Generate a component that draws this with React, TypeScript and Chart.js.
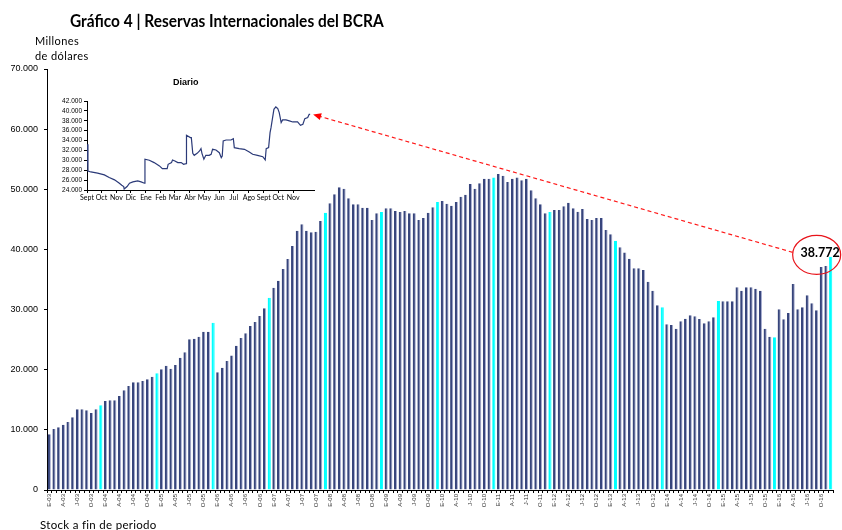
import React, { useEffect, useRef } from 'react';
import { Chart, registerables } from 'chart.js';

Chart.register(...registerables);

// ---- Main chart data (millones de dólares, stock a fin de período) ----
const years = ['03', '04', '05', '06', '07', '08', '09', '10', '11', '12', '13', '14', '15', '16'];
const monthLetters = ['E', 'F', 'M', 'A', 'M', 'J', 'J', 'A', 'S', 'O', 'N', 'D'];

const r2003 = [9260, 10140, 10420, 10860, 11310, 12090, 13410, 13410, 13250, 12800, 13410, 14080];
const r2004 = [14800, 14910, 14910, 15630, 16570, 17290, 17910, 17910, 18120, 18400, 18840, 19400];
const r2005 = [20070, 20670, 20170, 20780, 22000, 22890, 25060, 25160, 25490, 26320, 26320, 27820];
const r2006 = [19570, 20340, 21450, 22370, 23990, 25280, 26050, 27270, 27940, 28930, 30210, 31980];
const r2007 = [33640, 34800, 36750, 38410, 40570, 43120, 44180, 43120, 42850, 42950, 44730, 46110];
const r2008 = [47670, 49170, 50330, 50100, 48500, 47500, 47500, 46940, 46940, 44900, 46010, 46230];
const r2009 = [46840, 46840, 46390, 46230, 46390, 46010, 46010, 44900, 45230, 46110, 47000, 47890];
const r2010 = [48050, 47610, 47280, 47890, 48770, 49110, 50880, 50100, 51000, 51770, 51770, 51940];
const r2011 = [52540, 52270, 51210, 51770, 51940, 51500, 51770, 49850, 48500, 47500, 46010, 46230];
const r2012 = [46560, 46560, 47170, 47780, 46840, 46260, 46720, 45060, 44900, 45230, 45230, 43230];
const r2013 = [42540, 41430, 40380, 39510, 38440, 36860, 36860, 36580, 34640, 33140, 30710, 30380];
const r2014 = [27550, 27440, 26820, 28050, 28490, 29050, 28880, 28430, 27710, 28050, 28720, 31430];
const r2015 = [31380, 31380, 31380, 33700, 33140, 33700, 33700, 33480, 33140, 26820, 25490, 25380];
const r2016 = [30040, 28380, 29430, 34250, 30040, 30380, 32370, 31040, 29880, 37080, 37250, 38772];

const reserves = [
  ...r2003, ...r2004, ...r2005, ...r2006, ...r2007, ...r2008, ...r2009,
  ...r2010, ...r2011, ...r2012, ...r2013, ...r2014, ...r2015, ...r2016,
];
const categories = years.flatMap((y) => monthLetters.map((m) => `${m}-${y}`));
const highlighted = ['D-03', 'D-04', 'D-05', 'D-06', 'D-07', 'D-08', 'D-09', 'D-10', 'D-11', 'F-13', 'D-13', 'D-14', 'D-15', 'D-16'];
const labelledMonths = ['E', 'A', 'J', 'O'];
const yTicks = [0, 10000, 20000, 30000, 40000, 50000, 60000, 70000];

// ---- Inset "Diario" data (days since 1-Sept-2015, millones de dólares) ----
const insetDays = [0, 2, 8, 22, 36, 46, 57, 67, 72, 76, 77, 83, 88, 95, 105, 112, 119, 120, 129, 139, 150, 156, 166, 168, 175, 177, 182, 188, 195, 200, 205, 206, 214, 216, 219, 222, 228, 233, 236, 238, 242, 246, 253, 257, 260, 267, 274, 278, 280, 282, 288, 298, 303, 305, 315, 326, 336, 343, 353, 364, 369, 371, 376, 379, 381, 387, 391, 395, 398, 402, 405, 412, 419, 426, 436, 442, 447, 451, 457, 460, 462];
const insetValues = [33250, 27850, 27650, 27400, 27060, 26520, 26050, 25370, 24970, 24700, 24200, 24700, 25370, 25640, 25840, 25640, 25370, 30220, 30010, 29540, 28870, 28330, 28330, 29200, 29540, 30080, 29880, 29540, 29540, 29200, 29330, 35060, 34590, 34590, 31420, 31010, 31420, 31890, 32360, 31420, 30220, 31010, 31010, 31220, 32230, 32090, 31550, 30540, 30880, 33910, 34110, 34110, 34380, 32560, 32360, 32230, 31690, 31220, 31010, 30740, 30080, 32360, 32560, 35600, 36610, 40320, 40800, 40460, 39650, 37630, 38170, 38170, 37970, 37760, 37760, 37090, 37290, 38440, 38640, 39310, 39310];
const insetMonthStarts = [0, 30, 61, 91, 122, 153, 182, 213, 243, 274, 304, 335, 366, 396, 427];
const insetMonthLabels = ['Sept', 'Oct', 'Nov', 'Dic', 'Ene', 'Feb', 'Mar', 'Abr', 'May', 'Jun', 'Jul', 'Ago', 'Sept', 'Oct', 'Nov'];
const insetYTicks = [24000, 26000, 28000, 30000, 32000, 34000, 36000, 38000, 40000, 42000];

const fmt = (n: number) => String(Math.round(n)).replace(/\B(?=(\d{3})+(?!\d))/g, '.');

const NAVY = '#37457c';
const CYAN = '#00ffff';

const annotationPlugin = {
  id: 'calloutAnnotation',
  afterDatasetsDraw(chart: any) {
    const ctx = chart.ctx;
    const meta = chart.getDatasetMeta(0);
    const last = meta.data[meta.data.length - 1];
    const cx = last.x - 14;
    const cy = last.y - 2;
    const rx = 24;
    const ry = 19.5;
    ctx.save();
    // ellipse
    ctx.strokeStyle = '#e8141b';
    ctx.lineWidth = 1.2;
    ctx.beginPath();
    ctx.ellipse(cx, cy, rx, ry, 0, 0, Math.PI * 2);
    ctx.stroke();
    // value label
    ctx.fillStyle = '#000';
    ctx.font = 'bold 12.5px Lato';
    ctx.textAlign = 'right';
    ctx.textBaseline = 'middle';
    ctx.fillText(fmt(reserves[reserves.length - 1]), last.x + 9, cy - 2);
    // dashed arrow to inset
    const x0 = cx - rx;
    const y0 = cy - 2.5;
    const x1 = 316;
    const y1 = 115.3;
    ctx.strokeStyle = '#ff1a1a';
    ctx.lineWidth = 1.2;
    ctx.setLineDash([4, 3]);
    ctx.beginPath();
    ctx.moveTo(x0, y0);
    ctx.lineTo(x1, y1);
    ctx.stroke();
    ctx.setLineDash([]);
    const ang = Math.atan2(y1 - y0, x1 - x0);
    const tipX = x1 + Math.cos(ang) * 3;
    const tipY = y1 + Math.sin(ang) * 3;
    const len = 8;
    const half = 3.5;
    ctx.fillStyle = '#ff0000';
    ctx.beginPath();
    ctx.moveTo(tipX, tipY);
    ctx.lineTo(tipX - Math.cos(ang) * len - Math.sin(ang) * half, tipY - Math.sin(ang) * len + Math.cos(ang) * half);
    ctx.lineTo(tipX - Math.cos(ang) * len + Math.sin(ang) * half, tipY - Math.sin(ang) * len - Math.cos(ang) * half);
    ctx.closePath();
    ctx.fill();
    ctx.restore();
  },
};

export default function App() {
  const mainRef = useRef<HTMLCanvasElement>(null);
  const insetRef = useRef<HTMLCanvasElement>(null);

  useEffect(() => {
    Chart.defaults.font.family = 'Liberation Sans';
    const main = new Chart(mainRef.current as HTMLCanvasElement, {
      type: 'bar',
      data: {
        labels: categories,
        datasets: [
          {
            data: reserves,
            backgroundColor: categories.map((c) => (highlighted.includes(c) ? CYAN : NAVY)),
            borderColor: categories.map((c) => (highlighted.includes(c) ? CYAN : '#aab0d2')),
            borderWidth: { left: 0, right: 1, top: 0, bottom: 0 },
            borderSkipped: false,
            barPercentage: 0.68,
            categoryPercentage: 1,
          } as any,
        ],
      },
      options: {
        responsive: false,
        animation: false,
        layout: { padding: { left: 0, right: 9, top: 69, bottom: 0 } },
        plugins: { legend: { display: false }, tooltip: { enabled: false }, title: { display: false } },
        scales: {
          x: {
            grid: { display: true, drawOnChartArea: false, drawTicks: true, tickLength: 3, color: '#000', offset: true },
            border: { display: true, color: '#000', width: 1 },
            ticks: {
              autoSkip: false,
              minRotation: 90,
              maxRotation: 90,
              padding: 1,
              color: '#333',
              font: { family: 'Liberation Sans', size: 6 },
              callback: (_v: any, i: number) => (labelledMonths.includes(categories[i].split('-')[0]) && i % 3 === 0 ? categories[i] : ''),
            },
            afterFit: (s: any) => {
              s.height = 40;
            },
          },
          y: {
            min: 0,
            max: 70000,
            afterBuildTicks: (s: any) => {
              s.ticks = yTicks.map((v) => ({ value: v }));
            },
            grid: { display: true, drawOnChartArea: false, drawTicks: true, tickLength: 3, color: '#000' },
            border: { display: true, color: '#000', width: 1 },
            ticks: {
              padding: 6,
              color: '#000',
              font: { family: 'Liberation Sans', size: 9 },
              callback: (v: any) => fmt(Number(v)),
            },
            afterFit: (s: any) => {
              s.width = 47;
            },
          },
        },
      } as any,
      plugins: [annotationPlugin],
    });

    const inset = new Chart(insetRef.current as HTMLCanvasElement, {
      type: 'line',
      data: {
        datasets: [
          {
            data: insetDays.map((d, i) => ({ x: d, y: insetValues[i] })),
            borderColor: '#2b3a78',
            borderWidth: 1.2,
            pointRadius: 0,
            tension: 0,
            fill: false,
          },
        ],
      },
      options: {
        responsive: false,
        animation: false,
        layout: { padding: { left: 0, right: 6, top: 29, bottom: 0 } },
        plugins: { legend: { display: false }, tooltip: { enabled: false } },
        scales: {
          x: {
            type: 'linear',
            min: 0,
            max: 470,
            afterBuildTicks: (s: any) => {
              s.ticks = insetMonthStarts.map((v) => ({ value: v }));
            },
            grid: { display: true, drawOnChartArea: false, tickLength: 3, color: '#000' },
            border: { display: true, color: '#000', width: 1 },
            ticks: {
              autoSkip: false,
              minRotation: 0,
              maxRotation: 0,
              padding: 1,
              color: '#000',
              font: { family: 'Lato', size: 7 },
              callback: (_v: any, i: number) => insetMonthLabels[i],
            },
            afterFit: (s: any) => {
              s.height = 22;
            },
          },
          y: {
            min: 24000,
            max: 42000,
            afterBuildTicks: (s: any) => {
              s.ticks = insetYTicks.map((v) => ({ value: v }));
            },
            grid: { display: true, drawOnChartArea: false, tickLength: 3, color: '#000' },
            border: { display: true, color: '#000', width: 1 },
            ticks: {
              autoSkip: false,
              padding: 2,
              color: '#000',
              font: { family: 'Liberation Sans', size: 6.5 },
              callback: (v: any) => fmt(Number(v)),
            },
            afterFit: (s: any) => {
              s.width = 47;
            },
          },
        },
      } as any,
    });

    return () => {
      main.destroy();
      inset.destroy();
    };
  }, []);

  const text = (style: React.CSSProperties, content: string) => (
    <div style={{ position: 'absolute', whiteSpace: 'nowrap', lineHeight: 1, color: '#000', ...style }}>{content}</div>
  );

  return (
    <div style={{ position: 'absolute', left: 0, top: 0, width: 842, height: 530, background: '#fff', overflow: 'hidden' }}>
      <canvas ref={mainRef} width={842} height={530} style={{ position: 'absolute', left: 0, top: 0 }} />
      <canvas ref={insetRef} width={280} height={140} style={{ position: 'absolute', left: 40, top: 72 }} />
      {text({ left: 70, top: 13, fontFamily: 'Lato', fontWeight: 700, fontSize: 16.5, transform: 'scaleX(0.937)', transformOrigin: 'left top' }, 'Gráfico 4 | Reservas Internacionales del BCRA')}
      {text({ left: 35, top: 35, fontFamily: 'Lato', fontSize: 11, letterSpacing: 0.4 }, 'Millones')}
      {text({ left: 35, top: 50, fontFamily: 'Lato', fontSize: 11, letterSpacing: 0.4 }, 'de dólares')}
      {text({ left: 173, top: 78, fontFamily: 'Liberation Sans', fontWeight: 700, fontSize: 9 }, 'Diario')}
      {text({ left: 40, top: 519, fontFamily: 'Lato', fontSize: 11.5, letterSpacing: 0.3 }, 'Stock a fin de periodo')}
    </div>
  );
}
